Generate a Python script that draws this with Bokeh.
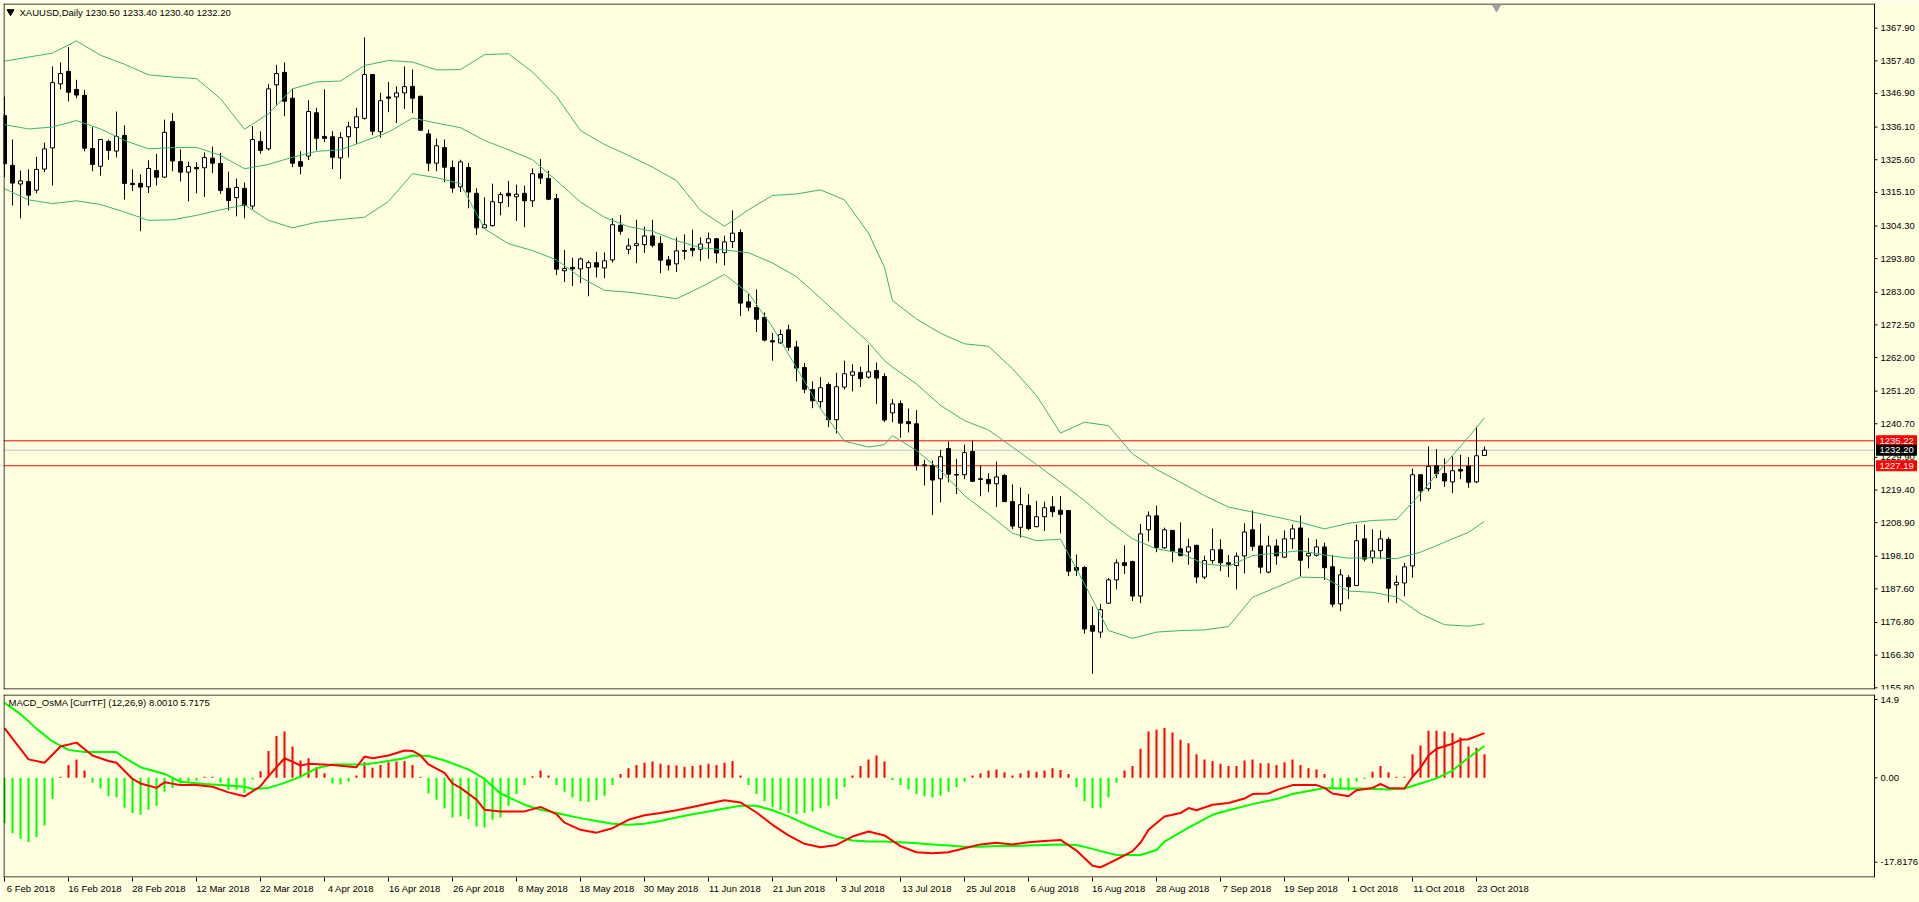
from bokeh.plotting import figure
from bokeh.models import Range1d, FixedTicker, Span, Label, ColumnDataSource, LinearAxis
from bokeh.layouts import column
from bokeh.embed import file_html
from bokeh.resources import INLINE
from bokeh.core.properties import value

# ---------------- data ----------------
date_labels = ["6 Feb 2018", "16 Feb 2018", "28 Feb 2018", "12 Mar 2018", "22 Mar 2018", "4 Apr 2018",
               "16 Apr 2018", "26 Apr 2018", "8 May 2018", "18 May 2018", "30 May 2018", "11 Jun 2018",
               "21 Jun 2018", "3 Jul 2018", "13 Jul 2018", "25 Jul 2018", "6 Aug 2018", "16 Aug 2018",
               "28 Aug 2018", "7 Sep 2018", "19 Sep 2018", "1 Oct 2018", "11 Oct 2018", "23 Oct 2018"]
label_every = 8

opens = [1339.8,1323.8,1317.8,1318.6,1315.8,1322.6,1329.4,1350.0,1354.0,1348.2,
1346.3,1329.2,1323.5,1331.5,1328.4,1333.4,1318.0,1318.0,1316.9,1322.1,
1320.0,1337.9,1325.0,1321.6,1323.1,1323.0,1326.1,1324.4,1316.4,1313.4,
1316.4,1310.7,1331.5,1329.1,1349.7,1353.7,1345.4,1325.0,1326.8,1340.7,
1333.1,1333.0,1326.2,1333.0,1335.9,1338.9,1353.0,1334.6,1345.8,1345.8,
1347.1,1349.2,1346.0,1333.9,1324.5,1329.5,1323.1,1316.9,1323.1,1314.8,
1303.7,1304.4,1311.8,1314.8,1313.7,1314.8,1312.4,1321.1,1319.6,1313.1,
1289.9,1291.0,1290.5,1290.9,1292.5,1290.8,1293.4,1304.5,1296.8,1298.0,
1298.3,1301.1,1298.7,1293.4,1292.1,1296.4,1297.1,1296.8,1298.9,1300.2,
1295.7,1299.3,1302.2,1279.9,1278.1,1274.9,1267.4,1266.7,1270.9,1265.4,
1258.8,1251.7,1247.8,1253.3,1242.0,1252.5,1256.3,1257.2,1255.7,1257.8,
1255.9,1244.2,1247.2,1241.4,1240.7,1227.5,1227.3,1223.0,1232.7,1224.4,
1224.3,1231.8,1223.0,1222.8,1221.4,1224.1,1215.7,1207.4,1214.4,1207.6,
1210.8,1214.0,1212.9,1212.8,1194.5,1194.5,1175.8,1173.7,1183.0,1190.5,
1196.0,1196.4,1185.3,1206.6,1211.1,1200.8,1206.4,1200.5,1199.5,1201.6,
1191.4,1196.7,1200.2,1196.0,1195.1,1198.2,1206.6,1201.4,1193.0,1201.4,
1197.8,1203.7,1207.2,1198.2,1198.4,1201.1,1194.7,1182.8,1191.2,1188.7,
1203.7,1197.6,1199.9,1203.5,1188.9,1189.5,1195.0,1224.3,1219.8,1227.2,
1224.7,1222.0,1226.0,1227.1,1222.0,1230.5]

highs = [1345.9,1332.1,1322.1,1322.5,1326.6,1331.1,1355.6,1356.9,1361.8,1351.3,
1348.1,1336.1,1332.3,1332.1,1341.1,1336.6,1322.5,1320.9,1325.4,1327.5,
1338.5,1340.6,1328.9,1325.0,1324.8,1328.0,1329.8,1327.8,1321.8,1319.5,
1318.3,1336.4,1334.7,1350.0,1356.1,1356.9,1348.4,1328.3,1344.7,1342.3,
1348.2,1334.8,1334.4,1337.8,1342.3,1364.9,1353.0,1347.2,1350.6,1349.2,
1355.6,1354.6,1346.2,1335.3,1332.4,1332.1,1325.4,1325.6,1324.6,1316.4,
1313.5,1317.9,1315.2,1318.8,1317.6,1317.3,1322.8,1325.8,1322.0,1314.6,
1296.6,1294.1,1294.2,1293.2,1296.0,1295.8,1306.8,1307.8,1300.3,1306.3,
1304.1,1306.3,1301.0,1294.6,1300.6,1301.6,1303.1,1300.6,1302.2,1300.4,
1301.2,1309.3,1303.2,1282.4,1283.9,1276.5,1269.9,1271.0,1272.6,1267.4,
1260.2,1254.3,1255.7,1254.0,1257.1,1261.0,1259.8,1259.1,1266.1,1260.4,
1256.9,1248.6,1248.2,1245.6,1245.1,1229.1,1228.9,1232.3,1235.0,1229.4,
1234.0,1235.3,1227.2,1224.8,1228.5,1224.5,1221.2,1220.2,1218.1,1215.9,
1215.6,1217.4,1217.5,1212.8,1198.6,1194.9,1182.0,1182.8,1191.1,1197.1,
1201.6,1196.7,1208.5,1212.5,1214.4,1207.3,1206.6,1209.0,1203.7,1201.8,
1198.3,1207.0,1203.5,1198.5,1199.3,1208.7,1212.8,1208.6,1204.7,1203.5,
1206.4,1208.3,1211.2,1204.0,1203.5,1202.5,1198.5,1193.9,1192.0,1208.3,
1208.3,1206.7,1206.4,1204.2,1191.9,1196.0,1226.3,1224.4,1233.4,1232.5,
1229.6,1230.2,1230.8,1230.0,1239.8,1233.4]

lows = [1320.0,1310.9,1306.8,1310.9,1314.8,1321.6,1317.3,1348.2,1344.4,1345.4,
1328.3,1321.9,1320.5,1325.6,1326.4,1312.8,1315.5,1302.6,1314.9,1317.3,
1319.7,1321.9,1318.6,1312.2,1314.8,1313.6,1321.3,1314.6,1309.3,1307.4,
1306.8,1309.6,1327.5,1328.6,1343.3,1339.6,1323.2,1320.9,1325.5,1328.6,
1331.3,1322.6,1319.4,1326.4,1330.7,1338.5,1333.5,1332.7,1340.9,1337.4,
1341.9,1340.6,1334.8,1321.9,1321.9,1318.4,1315.0,1315.2,1310.0,1301.4,
1303.4,1304.1,1307.7,1310.4,1305.9,1303.9,1310.4,1317.8,1312.6,1288.5,
1286.3,1285.0,1285.9,1281.7,1287.8,1287.5,1292.5,1301.5,1295.2,1292.3,
1295.6,1297.4,1289.1,1290.0,1289.5,1293.5,1294.5,1293.0,1293.8,1292.3,
1291.6,1297.2,1275.3,1276.9,1270.2,1267.2,1261.0,1266.4,1264.2,1254.3,
1250.5,1245.7,1245.9,1239.6,1237.6,1251.7,1251.1,1252.5,1255.2,1247.1,
1241.2,1241.2,1236.2,1237.9,1225.7,1220.9,1211.4,1215.4,1221.9,1218.1,
1222.9,1222.0,1217.4,1218.7,1213.9,1215.4,1206.8,1204.1,1206.5,1207.4,
1206.2,1210.7,1205.5,1191.7,1191.7,1173.2,1160.3,1171.9,1182.8,1187.5,
1192.4,1183.7,1183.0,1202.9,1199.4,1200.5,1196.2,1198.1,1195.4,1189.4,
1190.7,1195.7,1193.3,1191.4,1187.5,1192.6,1199.9,1192.6,1192.6,1195.4,
1197.5,1200.5,1191.6,1194.2,1198.0,1190.5,1181.7,1180.4,1184.3,1188.5,
1196.4,1195.8,1197.2,1183.3,1183.0,1185.2,1191.2,1215.8,1219.0,1223.2,
1220.4,1218.4,1222.9,1220.1,1221.6,1230.4]

closes = [1324.3,1318.1,1318.8,1314.2,1322.5,1329.1,1350.4,1353.3,1347.3,1346.4,
1329.3,1324.1,1332.1,1328.6,1333.1,1318.0,1317.6,1316.8,1322.8,1320.0,
1334.4,1325.2,1321.6,1323.4,1322.7,1326.3,1324.5,1315.7,1312.5,1316.7,
1310.9,1332.1,1328.6,1348.4,1353.3,1344.4,1324.5,1323.5,1341.1,1332.5,
1332.5,1326.4,1332.7,1336.2,1339.4,1353.0,1334.8,1344.6,1345.4,1347.1,
1349.1,1345.4,1335.1,1324.5,1330.1,1323.2,1316.5,1324.9,1315.2,1303.7,
1304.7,1312.1,1314.4,1314.0,1314.5,1312.4,1321.1,1319.7,1312.9,1290.4,
1290.6,1290.5,1293.7,1292.5,1291.1,1293.1,1304.7,1302.6,1297.9,1298.6,
1301.1,1298.1,1293.3,1291.7,1296.3,1296.2,1296.5,1298.5,1300.2,1295.6,
1299.2,1302.0,1279.5,1278.2,1274.3,1267.6,1267.0,1269.4,1265.3,1258.6,
1251.8,1248.1,1252.3,1242.0,1252.6,1256.8,1257.4,1255.2,1257.4,1255.4,
1241.9,1247.1,1240.9,1240.7,1227.3,1227.2,1222.6,1230.1,1224.5,1224.2,
1231.4,1222.2,1222.8,1221.4,1223.6,1215.7,1207.8,1214.7,1207.0,1210.8,
1213.7,1212.4,1211.6,1193.3,1193.6,1174.7,1174.0,1180.9,1190.5,1196.0,
1195.1,1185.3,1205.3,1211.1,1200.9,1206.6,1199.7,1198.3,1201.1,1191.4,
1196.7,1200.2,1196.0,1195.5,1198.1,1205.9,1201.3,1194.6,1201.4,1198.2,
1203.7,1206.9,1196.8,1199.0,1201.1,1194.4,1182.7,1192.1,1188.3,1203.1,
1197.2,1199.8,1203.7,1187.8,1189.7,1194.7,1224.3,1219.1,1227.0,1224.6,
1222.3,1225.6,1225.5,1221.9,1230.4,1232.2]

# Bollinger bands (20,2) read at selected bars
bb_x = [0,3,6,9,12,15,18,21,24,27,30,33,36,39,42,45,48,51,54,57,60,63,66,69,72,
        75,78,81,84,87,90,93,96,99,102,105,108,110,111,114,117,120,123,126,129,132,135,138,141,144,147,
        150,153,156,159,162,165,168,171,174,177,180,183,185]
bb_upper = [1357.3,1358.6,1359.9,1363.8,1359.2,1356.3,1352.9,1352.2,1351.7,1345.2,1335.4,1340.4,1348.4,
            1350.6,1350.9,1355.9,1357.5,1357.0,1354.5,1354.6,1359.4,1359.7,1353.8,1346.0,1335.0,
            1330.5,1327.0,1323.2,1318.9,1309.3,1304.2,1309.5,1314.1,1314.6,1315.9,1312.7,1302.0,1291.0,1280.3,
            1274.4,1269.8,1266.4,1265.6,1258.4,1249.8,1237.7,1241.2,1240.1,1231.0,1226.0,1221.9,
            1217.6,1213.9,1212.3,1210.7,1209.0,1206.9,1208.7,1209.6,1209.9,1218.2,1227.6,1236.4,1242.6]
bb_middle = [1336.9,1335.5,1336.1,1338.2,1335.5,1331.8,1329.1,1329.5,1329.6,1327.0,1322.7,1324.1,1326.4,
             1328.3,1328.8,1331.6,1334.5,1339.0,1337.4,1335.9,1331.8,1328.8,1325.6,1318.9,1312.0,
             1307.1,1304.1,1302.6,1299.6,1297.3,1296.6,1295.7,1292.4,1288.0,1281.1,1273.9,1266.9,1261.0,1258.9,
             1253.5,1246.6,1241.7,1238.7,1233.2,1227.6,1221.9,1216.0,1209.4,1203.7,1200.5,1199.1,
             1195.6,1194.9,1198.3,1199.1,1199.9,1198.5,1197.5,1197.6,1197.3,1199.4,1202.6,1205.8,1209.3]
bb_lower = [1316.3,1312.7,1311.5,1312.4,1311.2,1308.8,1306.1,1306.3,1307.7,1309.5,1311.1,1306.1,1303.7,
            1305.5,1306.4,1307.1,1312.2,1321.1,1319.8,1317.9,1303.4,1298.6,1296.4,1293.4,1287.8,
            1283.6,1283.0,1282.0,1280.9,1284.6,1288.7,1282.7,1271.8,1258.7,1245.5,1235.1,1233.2,1234.0,1236.9,
            1232.1,1225.7,1217.6,1211.7,1205.5,1203.1,1203.6,1189.2,1174.2,1171.7,1173.7,1174.2,
            1174.4,1175.5,1184.9,1188.1,1191.4,1191.2,1186.9,1186.5,1185.0,1179.6,1176.1,1175.6,1176.4]

price_ticks = [1367.90,1357.40,1346.90,1336.10,1325.60,1315.10,1304.30,1293.80,1283.00,1272.50,1262.00,
               1251.20,1240.70,1229.90,1219.40,1208.90,1198.10,1187.60,1176.80,1166.30,1155.80]
level_high, level_low, last_price = 1235.22, 1227.19, 1232.20
title_text = "XAUUSD,Daily  1230.50 1233.40 1230.40 1232.20"

# MACD_OsMA panel
osma = [-8.1,-9.9,-10.9,-11.5,-10.6,-8.5,-3.8,0.2,2.3,3.3,
1.3,-0.9,-1.9,-3.3,-3.5,-5.3,-6.3,-6.6,-5.7,-5.0,
-2.5,-1.8,-1.0,-0.6,-0.5,0.2,0.2,-0.9,-2.1,-2.1,
-2.7,-0.3,1.2,4.8,7.5,8.3,5.6,3.1,3.5,1.9,
0.8,-1.0,-1.2,-0.7,0.4,2.8,1.8,2.3,2.8,2.9,
3.0,2.3,0.2,-2.8,-3.9,-5.5,-7.1,-6.9,-7.4,-8.7,
-8.9,-7.5,-7.1,-5.0,-2.9,-1.3,0.3,1.3,0.4,-1.3,
-2.5,-3.5,-4.2,-4.3,-4.0,-3.2,-1.3,0.7,1.7,2.3,
2.7,2.9,2.5,2.3,2.2,2.0,2.1,2.3,2.5,2.3,
2.7,3.0,0.4,-1.3,-2.9,-4.2,-5.2,-5.8,-6.3,-6.5,
-6.3,-6.0,-5.4,-5.0,-3.8,-1.7,0.4,2.1,3.3,4.0,
2.9,-0.4,-1.3,-2.1,-2.9,-3.3,-3.5,-3.2,-2.5,-1.7,
-0.7,0.4,0.8,1.3,1.5,1.0,0.4,0.8,1.3,1.1,
1.3,1.7,1.4,0.7,-1.7,-4.2,-5.4,-5.3,-3.5,-0.9,
1.3,2.1,5.2,8.3,8.6,8.9,8.1,6.8,6.2,4.2,
3.3,3.0,2.5,2.1,2.1,3.1,3.3,2.6,2.6,2.3,
2.8,3.3,2.3,1.7,1.5,0.7,-1.9,-1.9,-2.3,-0.7,
-0.2,1.1,2.1,1.0,0.2,0.2,4.2,5.8,8.4,8.4,
8.3,8.0,7.2,5.6,5.4,4.2]

macd_x = [0,1,3,5,7,9,11,13,14,16,17,19,20,22,24,26,28,30,32,33,35,36,37,38,41,44,45,46,48,50,
          51,52,53,55,56,57,59,60,62,65,67,69,70,72,74,76,78,80,82,84,86,88,90,92,94,96,98,100,102,104,
          106,108,110,112,114,116,118,120,122,124,126,128,130,132,134,136,137,139,141,142,
          143,145,147,148,149,151,153,155,156,158,159,161,164,165,166,168,169,171,172,173,
          175,176,177,178,179,181,182,183,185]
macd_v = [8.9,7.0,3.3,2.7,5.6,6.3,4.0,3.0,2.7,-0.2,-1.0,-1.8,-0.8,-1.3,-1.3,-1.6,-2.6,-3.3,-1.5,0.3,
          3.5,2.9,2.2,2.5,2.3,1.9,3.8,3.5,4.0,4.9,4.8,4.0,2.4,0.9,-1.0,-1.8,-3.9,-5.7,-6.0,-6.0,
          -5.2,-6.5,-8.0,-9.3,-9.8,-9.0,-7.5,-6.7,-6.3,-5.8,-5.2,-4.6,-4.0,-4.4,-6.2,-8.4,-10.3,-11.8,-12.4,-12.0,
          -10.5,-9.6,-10.3,-12.2,-13.3,-13.5,-13.3,-12.6,-11.9,-11.6,-11.9,-11.5,-11.3,-11.1,-13.0,-15.7,-16.0,-14.6,-13.1,-11.6,
          -9.3,-6.9,-6.3,-5.4,-5.8,-4.8,-4.5,-3.7,-2.9,-2.8,-2.2,-1.3,-1.3,-1.8,-2.8,-3.3,-2.2,-1.8,-1.1,-1.8,
          -1.9,0.2,1.8,4.0,5.2,6.1,6.8,6.9,8.0]
signal_x = [0,2,4,6,8,10,14,15,17,20,22,25,27,30,31,33,35,37,39,41,45,47,50,51,53,55,58,60,62,65,
            67,69,70,72,74,76,78,80,82,84,86,88,90,92,94,96,98,100,102,104,
            106,108,110,112,114,116,118,120,122,124,126,128,130,132,134,136,137,139,142,144,
            145,148,151,153,156,159,161,165,167,170,173,175,177,179,181,183,185]
signal_v = [13.4,11.4,8.8,6.5,5.0,4.6,4.6,3.6,1.9,0.7,-0.7,-1.1,-1.3,-1.6,-2.0,-1.8,-0.9,0.2,1.7,2.4,
            2.4,2.8,3.5,4.0,3.9,3.1,1.5,-0.2,-2.8,-4.8,-5.7,-6.3,-6.6,-7.2,-7.7,-8.2,-8.4,-8.2,-7.7,-7.1,
            -6.5,-6.0,-5.5,-5.0,-5.0,-5.8,-6.9,-8.2,-9.4,-10.5,-11.2,-11.4,-11.4,-11.5,-11.7,-11.9,-12.1,-12.3,-12.3,-12.2,
            -12.2,-12.1,-12.0,-11.9,-12.0,-12.7,-13.1,-13.8,-13.8,-12.9,-11.4,-8.9,-6.6,-5.8,-4.7,-3.8,-2.9,-1.8,-1.9,-1.9,
            -2.1,-1.9,-1.0,-0.1,1.3,3.6,5.7]
macd_max, macd_min = 14.9, -17.8176
macd_title = "MACD_OsMA [CurrTF] (12,26,9) 8.0010 5.7175"

# ---------------- styling / geometry ----------------
BG = "#FFFFE0"
FONT = "Liberation Sans"
FS = "9.5px"
BAND = "#3CB371"
PX = 8.0                  # pixels per bar
W = 1919
X0 = -0.125               # left edge of both windows (bars)
X1 = X0 + (W - 3) / PX    # right edge of both windows (bars)
X_AXIS = 233.75           # MT4 scale line (bars)
P_LO, P_HI = 1155.25, 1375.84
P_FRAME = 686
Q_FRAME = 183


def mt4_scale(fig, ticks, labels, lo, hi, npx):
    """Window border + MT4 style scale drawn inside the (full width) frame."""
    dy = (hi - lo) / npx
    fig.add_layout(Span(location=X_AXIS, dimension="height", line_color="black", line_width=1))
    fig.add_layout(Span(location=X0 + 0.5 / PX, dimension="height", line_color="black", line_width=1))
    fig.segment(x0=[X0, X0], x1=[X_AXIS, X_AXIS], y0=[hi - 0.5 * dy, lo + 0.5 * dy],
                y1=[hi - 0.5 * dy, lo + 0.5 * dy], line_color="black", line_width=1)
    fig.segment(x0=[X_AXIS] * len(ticks), x1=[X_AXIS + 3 / PX] * len(ticks), y0=ticks, y1=ticks,
                line_color="black", line_width=1)
    fig.text(x=[X_AXIS] * len(ticks), y=ticks, text=labels, x_offset=6, text_align="left",
             text_baseline="middle", text_color="black", text_font=value(FONT), text_font_size=value(FS))
    return dy


n = len(opens)
idx = list(range(n))
bull = [c > o for o, c in zip(opens, closes)]
src = ColumnDataSource(dict(
    x=idx, high=highs, low=lows,
    top=[max(o, c) for o, c in zip(opens, closes)],
    bottom=[min(o, c) for o, c in zip(opens, closes)],
    fill=["white" if b else "black" for b in bull],
))

# ---------------- price window ----------------
p = figure(width=W, height=694, x_range=Range1d(X0, X1), y_range=Range1d(P_LO, P_HI),
           output_backend="svg", toolbar_location=None, x_axis_location=None, y_axis_location=None,
           min_border_left=3, min_border_right=0, min_border_top=3, min_border_bottom=5,
           background_fill_color=BG, border_fill_color=BG, outline_line_color=None)
p.grid.visible = False

for lvl, col in ((level_high, "red"), (last_price, "#C0C0C0"), (level_low, "red")):
    p.segment(x0=[X0], x1=[X_AXIS], y0=[lvl], y1=[lvl], line_color=col, line_width=1)

p.segment(x0="x", y0="low", x1="x", y1="high", source=src, line_color="black", line_width=1)
p.vbar(x="x", top="top", bottom="bottom", width=0.5, source=src, fill_color="fill",
       line_color="black", line_width=1)

for band in (bb_upper, bb_middle, bb_lower):
    p.line(bb_x, band, line_color=BAND, line_width=1)

dy_p = mt4_scale(p, price_ticks, ["%.2f" % v for v in price_ticks], P_LO, P_HI, P_FRAME)

# coloured price boxes for the two levels and the bid line
levels = [level_high, last_price, level_low]
box_cols = ["red", "black", "red"]
p.quad(left=[X_AXIS + 2 / PX] * 3, right=[X_AXIS + 42 / PX] * 3,
       bottom=[v - 5 * dy_p for v in levels], top=[v + 5 * dy_p for v in levels],
       fill_color=box_cols, line_color=box_cols)
p.text(x=[X_AXIS] * 3, y=levels, text=["%.2f" % v for v in levels], x_offset=5,
       text_align="left", text_baseline="middle", text_color="white",
       text_font=value(FONT), text_font_size=value(FS))

# window title
p.scatter([0.75], [1373.2], marker="inverted_triangle", size=7, color="black")
p.add_layout(Label(x=1.875, y=1373.05, text=title_text, text_font=FONT, text_font_size=FS,
                   text_baseline="middle", text_color="black"))
p.scatter([186.5], [1374.6], marker="inverted_triangle", size=8, color="#A0A0A0")

# ---------------- MACD window ----------------
q = figure(width=W, height=208, x_range=Range1d(X0, X1), y_range=Range1d(macd_min, macd_max),
           output_backend="svg", toolbar_location=None, y_axis_location=None, x_axis_location=None,
           min_border_left=3, min_border_right=0, min_border_top=0, min_border_bottom=25,
           background_fill_color=BG, border_fill_color=BG, outline_line_color=None)
q.grid.visible = False
q.vbar(x=idx, top=osma, width=0.25, line_color=None,
       fill_color=["#FF0000" if v > 0 else "#00FF00" for v in osma])
q.line(signal_x, signal_v, line_color="#00FF00", line_width=2)
q.line(macd_x, macd_v, line_color="#FF0000", line_width=2)
q.add_layout(Label(x=0.5, y=13.5, text=macd_title, text_font=FONT, text_font_size=FS,
                   text_baseline="middle", text_color="black"))

# MT4 draws the max/min labels of a sub-window just inside its edges
dy_q = (macd_max - macd_min) / Q_FRAME
label_pos = [macd_max - 5 * dy_q, 0.0, macd_min + 15.3 * dy_q]
mt4_scale(q, label_pos, ["%g" % macd_max, "0.00", "%g" % macd_min], macd_min, macd_max, Q_FRAME)

# date axis: MT4 writes each date just to the right of its tick mark
ticks = [label_every * k for k in range(len(date_labels))]
shift = 3.3
q.extra_x_ranges = {"dates": Range1d(X0 - shift, X1 - shift)}
date_axis = LinearAxis(x_range_name="dates",
                       ticker=FixedTicker(ticks=ticks, minor_ticks=[t - shift for t in ticks]),
                       major_label_overrides={t: lab for t, lab in zip(ticks, date_labels)},
                       major_tick_line_color=None, major_tick_out=2, major_tick_in=0,
                       minor_tick_line_color="black", minor_tick_out=4, minor_tick_in=0,
                       axis_line_color=None, major_label_standoff=1,
                       major_label_text_font=FONT, major_label_text_font_size=FS,
                       major_label_text_color="black")
q.add_layout(date_axis, "below")

layout = column(p, q, spacing=0)
open("out.html", "w").write(file_html(layout, INLINE))
